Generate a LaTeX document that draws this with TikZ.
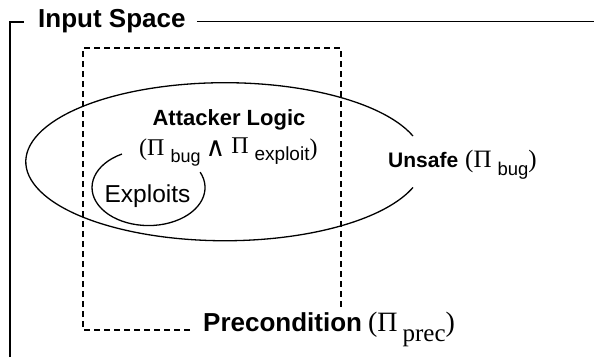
\documentclass[tikz,border=0pt]{standalone}
\usepackage{fontspec}
\setmainfont{Liberation Sans}
\newfontfamily\serifpi{Liberation Serif}
\newfontfamily\djv{DejaVu Sans}
\newcommand\fsz[1]{\fontsize{#1}{#1}\selectfont}
\begin{document}
\begin{tikzpicture}[x=1pt,y=-1pt,
  lbl/.style={inner sep=0pt, anchor=base west},
  frameline/.style={line width=1.3pt},
  dashline/.style={line width=1.1pt, dash pattern=on 6pt off 4pt},
  curve/.style={line width=1.3pt}]
\useasboundingbox (0,0) rectangle (594,357);
% Input space frame
\node[lbl, font=\bfseries\fsz{26}] (inp) at (38,27) {Input Space};
\coordinate (fbl) at (10,357);
\coordinate (ftl) at (10,22);
\coordinate (ftick) at (24,22);
\coordinate (fr) at (594,21.7);
\draw[frameline] (fbl) -- (ftl) -- (ftick);
\draw[frameline] ([xshift=11pt]inp.east |- fr) -- (fr);
% Precondition dashed box
\node[lbl, font=\fsz{26}] (prec) at (203,331) {\textbf{Precondition}\hspace{6pt}{\serifpi\fsz{28}(Π}\hspace{5pt}\raisebox{-10pt}{\serifpi\fsz{25}prec}{\serifpi\fsz{28})}};
\coordinate (pbl) at (83,330);
\coordinate (pb) at (190,330);
\coordinate (ptl) at (83,48);
\coordinate (ptr) at (341,48);
\coordinate (pr) at (341,310);
\draw[dashline] (pb) -- (pbl) -- (ptl) -- (ptr) -- (pr);
% Unsafe ellipse
\coordinate (ustart) at (413,136);
\draw[curve] (ustart) arc[start angle=19, end angle=341, x radius=199pt, y radius=79pt];
\node[lbl, font=\fsz{21}] (unsafe) at (388,167) {\textbf{Unsafe}\hspace{7pt}{\serifpi\fsz{25}(Π}\hspace{6pt}\raisebox{-8pt}{\fsz{18.5}bug}{\serifpi\fsz{25})}};
% Attacker logic
\node[font=\bfseries\fsz{22}, inner sep=0pt, anchor=base] (att) at (229,125) {Attacker Logic};
\node[lbl] (form) at (139,155) {{\serifpi\fsz{24}(Π}\hspace{6pt}\raisebox{-7pt}{\fsz{18}bug}\hspace{5pt}\raisebox{-1pt}{\djv\fsz{27}∧}\hspace{6pt}\raisebox{2pt}{\serifpi\fsz{24}Π}\hspace{6pt}\raisebox{-5pt}{\fsz{19}exploit}{\serifpi\fsz{24})}};
% Exploits ellipse
\coordinate (estart) at (122,154);
\draw[curve] (estart) arc[start angle=118, end angle=384, x radius=56.5pt, y radius=38pt];
\node[font=\fsz{24.5}, inner sep=0pt, anchor=base] (expl) at (147.5,202) {Exploits};
\end{tikzpicture}
\end{document}
